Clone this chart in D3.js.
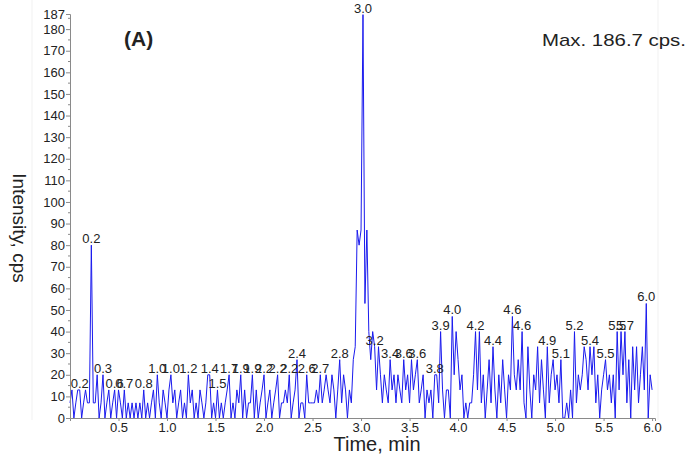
<!DOCTYPE html>
<html>
<head>
<meta charset="utf-8">
<script src="https://cdn.jsdelivr.net/npm/d3@7"></script>
<style>
  body { margin: 0; background: #fff; }
  text { font-family: "Liberation Sans", Arial, sans-serif; fill: #222; }
</style>
</head>
<body>
<script>
// scan sampling (min)
const scanStep = 0.02;

// intensity, cps, one value per scan from 0.00 to 6.00 min
const intensity = [
  7,13,0,7,13,13,0,7,13,7,
  7,80,7,7,20,0,7,20,0,7,
  13,0,7,13,0,13,7,0,13,0,
  7,0,7,0,7,0,7,0,13,0,
  7,0,7,13,0,20,7,0,13,7,
  0,13,20,7,13,0,7,13,0,7,
  0,20,7,13,0,7,0,13,7,0,
  7,20,20,0,7,0,13,0,7,0,
  7,13,20,0,7,0,13,7,20,0,
  13,0,7,7,20,0,13,0,7,13,
  20,0,7,13,0,7,13,20,0,7,
  7,13,7,20,0,7,13,27,0,7,
  7,0,20,7,7,7,7,13,7,20,
  7,13,20,13,7,20,13,0,13,27,
  7,20,13,0,13,7,27,33,87,80,
  87,186.7,53,87,40,27,40,33,13,33,
  20,7,20,13,7,27,13,20,7,20,
  13,7,27,13,20,7,27,13,20,27,
  7,13,20,0,13,7,13,0,20,20,
  7,40,13,0,13,13,0,47,20,40,
  27,13,20,0,7,0,7,7,20,40,
  13,40,7,20,0,13,27,7,33,13,
  0,20,7,27,13,0,20,13,47,20,
  13,27,13,40,7,0,33,13,0,20,
  13,33,7,27,13,0,33,7,20,27,
  13,20,7,27,0,0,7,0,13,0,
  40,7,20,13,20,33,27,13,33,20,
  33,7,20,0,13,20,27,13,20,7,
  20,0,40,13,40,20,40,7,27,0,
  33,13,33,7,20,33,13,53,0,20,
  13
];

// peak labels
const peakTimes = [0.10,0.22,0.34,0.46,0.56,0.76,0.90,1.04,1.22,1.44,1.52,1.64,1.76,1.88,
  2.00,2.14,2.26,2.34,2.44,2.58,2.78,3.02,3.14,3.30,3.44,3.58,3.76,3.82,3.94,4.18,4.36,
  4.56,4.66,4.92,5.06,5.20,5.36,5.52,5.64,5.72,5.94];
const peakTexts = ["0.2","0.2","0.3","0.6","0.7","0.8","1.0","1.0","1.2","1.4","1.5","1.7","1.9","1.9",
  "2.2","2.2","2.2","2.4","2.6","2.7","2.8","3.0","3.2","3.4","3.6","3.6","3.8","3.9","4.0","4.2","4.4",
  "4.6","4.6","4.9","5.1","5.2","5.4","5.5","5.5","5.7","6.0"];

const xTicks = [0.5,1.0,1.5,2.0,2.5,3.0,3.5,4.0,4.5,5.0,5.5,6.0];
const yTicks = [0,10,20,30,40,50,60,70,80,90,100,110,120,130,140,150,160,170,180,187];
const yMax = 187;

const W = 688, H = 458;
const svg = d3.select("body").append("svg").attr("width", W).attr("height", H);

// faint page edges
svg.append("line").attr("x1", 32).attr("x2", 32).attr("y1", 0).attr("y2", 420)
   .attr("stroke", "#f1f1f1");
svg.append("line").attr("x1", 658).attr("x2", 658).attr("y1", 0).attr("y2", 420)
   .attr("stroke", "#f1f1f1");

const x = d3.scaleLinear().domain([0, 6.03]).range([70, 655]);
const y = d3.scaleLinear().domain([0, yMax]).range([418, 14]);

const pts = intensity.map((v, i) => ({t: i * scanStep, v: v}));

// trace
svg.append("path")
   .datum(pts)
   .attr("fill", "none")
   .attr("stroke", "#1a1aee")
   .attr("stroke-width", 1)
   .attr("d", d3.line().x(d => x(d.t)).y(d => y(d.v)));

// y axis
const yAxis = svg.append("g").attr("transform", "translate(70,0)")
   .call(d3.axisLeft(y).tickValues(yTicks).tickSize(4).tickFormat(d3.format("d")));
yAxis.select(".domain").attr("stroke", "#8a8a8a");
yAxis.selectAll(".tick line").attr("stroke", "#8a8a8a");
yAxis.selectAll(".tick text").attr("font-size", 13).attr("x", -5);
svg.append("g").selectAll("line")
   .data(d3.range(5, 186, 10))
   .join("line")
   .attr("x1", 68).attr("x2", 70)
   .attr("y1", d => y(d)).attr("y2", d => y(d))
   .attr("stroke", "#8a8a8a");

// x axis
const xAxis = svg.append("g").attr("transform", "translate(0,418)")
   .call(d3.axisBottom(x).tickValues(xTicks).tickSize(3).tickFormat(d3.format(".1f")));
xAxis.select(".domain").attr("stroke", "#8a8a8a");
xAxis.selectAll(".tick line").attr("stroke", "#8a8a8a");
xAxis.selectAll(".tick text").attr("font-size", 13).attr("y", 5);

// peak labels
svg.append("g").selectAll("text")
   .data(peakTimes)
   .join("text")
   .attr("x", d => x(d))
   .attr("y", (d, i) => y(intensity[Math.round(d / scanStep)]) - 2)
   .attr("text-anchor", "middle")
   .attr("font-size", 13)
   .text((d, i) => peakTexts[i]);

// titles
svg.append("text").attr("x", 377).attr("y", 451).attr("text-anchor", "middle")
   .attr("font-size", 20).text("Time, min");
svg.append("text").attr("transform", "translate(13,228) rotate(90)")
   .attr("text-anchor", "middle").attr("font-size", 19).text("Intensity, cps");
svg.append("text").attr("x", 124).attr("y", 46).attr("font-size", 21)
   .attr("font-family", "DejaVu Sans").attr("font-weight", "bold").text("(A)");
svg.append("text").attr("x", 542).attr("y", 46).attr("font-size", 17)
   .attr("textLength", 144).attr("lengthAdjust", "spacingAndGlyphs")
   .text("Max.  186.7 cps.");
</script>
</body>
</html>
